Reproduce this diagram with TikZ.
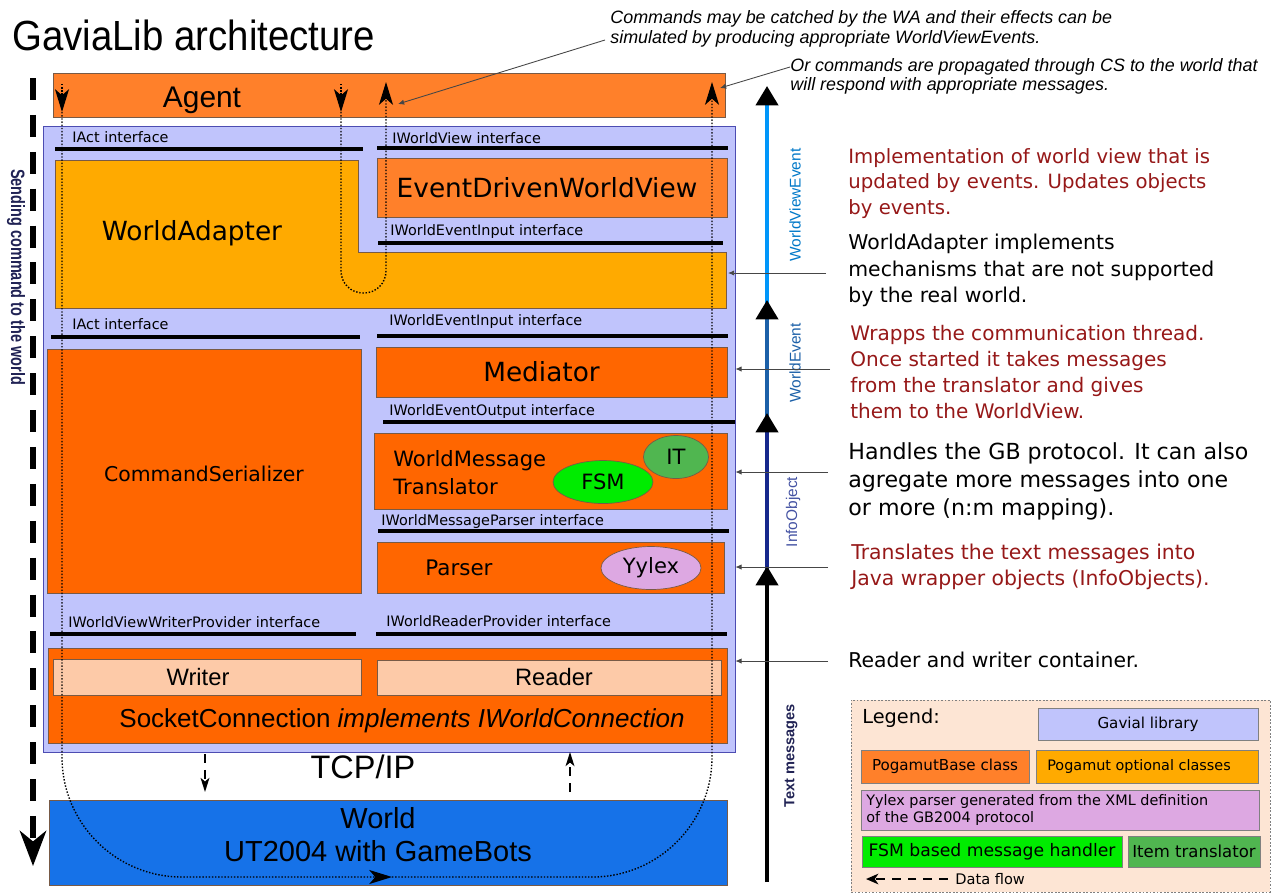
\documentclass[tikz,border=0pt]{standalone}
\usepackage{graphicx}
\usepackage{fontspec}
\setmainfont{DejaVu Sans}
\newfontfamily\libsans{Liberation Sans}
\usetikzlibrary{arrows.meta,positioning,calc,fit,shapes.geometric}

\definecolor{baseorange}{RGB}{255,128,42}
\definecolor{coreorange}{RGB}{255,102,0}
\definecolor{optyellow}{RGB}{255,170,0}
\definecolor{gavialblue}{RGB}{192,196,252}
\definecolor{peach}{RGB}{253,202,168}
\definecolor{worldblue}{RGB}{22,114,232}
\definecolor{fsmgreen}{RGB}{0,236,0}
\definecolor{itgreen}{RGB}{80,182,80}
\definecolor{yylexpink}{RGB}{221,168,226}
\definecolor{legendbg}{RGB}{253,229,212}
\definecolor{notered}{RGB}{150,24,24}
\definecolor{wveblue}{RGB}{0,150,250}
\definecolor{weblue}{RGB}{28,96,168}
\definecolor{ionavy}{RGB}{22,40,140}
\definecolor{labelnavy}{RGB}{32,34,84}
\definecolor{boxline}{RGB}{120,90,70}

\tikzset{
    panel/.style={draw=gray!60!blue,fill=gavialblue},
    basebox/.style={draw=boxline,fill=baseorange},
    corebox/.style={draw=boxline,fill=coreorange},
    iobox/.style={draw=boxline,fill=peach},
    iotext/.style={font=\libsans\fontsize{13.5}{16}\selectfont},
    bigtext/.style={font=\fontsize{15}{18}\selectfont},
    blob/.style={ellipse,draw=boxline,font=\fontsize{12}{14}\selectfont},
    ifbar/.style={line width=2.6pt},
    iflabel/.style={anchor=base west,font=\fontsize{8.2}{10}\selectfont},
    note/.style={anchor=north west,align=left,font=\fontsize{11.5}{14.8}\selectfont},
    pointer/.style={gray!55!black,line width=0.5pt,-{Latex[length=3.5pt,width=3pt]}},
    flow/.style={line width=0.8pt,dash pattern=on 0.8pt off 1pt,-{Stealth[length=13pt,width=8pt,inset=3.5pt]}},
    tcpflow/.style={line width=1pt,dash pattern=on 5pt off 4pt,-{Stealth[length=8pt,width=5pt,inset=2pt]}},
    stream/.style={line width=2.3pt,-{Triangle[length=11pt,width=12.5pt,color=black]}},
    streamlabel/.style={rotate=90,font=\libsans\fontsize{8.8}{10}\selectfont},
    legbox/.style={draw=gray},
    legtext/.style={font=\fontsize{8.6}{10}\selectfont}
}

\begin{document}
\begin{tikzpicture}[x=0.02cm,y=-0.02cm,every node/.style={inner sep=0pt}]
    \useasboundingbox (0,0) rectangle (1273,894);

    \node[anchor=base west,font=\libsans\fontsize{24}{28}\selectfont] (title) at (12,50) {\scalebox{0.91}[1]{GaviaLib architecture}};

    % library panel and agent
    \node[panel,fit={(43,126) (735,752)}] (gavial) {};
    \node[basebox,fit={(53,73) (725,117)}] (agent) {};
    \node[font=\libsans\fontsize{17}{20}\selectfont] (agentname) at (202,100) {Agent};

    % world adapter (L shaped)
    \draw[draw=boxline,fill=optyellow] (55,160) -- (358,160) -- (358,252) -- (726,252) -- (726,308) -- (55,308) -- cycle;
    \node[bigtext] (adapter) at (192,233) {WorldAdapter};
    \coordinate (adapteredge) at (728,273);

    \node[basebox,fit={(377,158) (727,217)}] (worldview) {};
    \node[bigtext] at ([xshift=-0.1cm]worldview) {EventDrivenWorldView};
    \node[corebox,fit={(376,347) (727,397)}] (mediator) {};
    \node[bigtext] at ([xshift=-0.2cm]mediator) {Mediator};
    \node[corebox,fit={(47,349) (361,593)}] (serializer) {};
    \node[font=\fontsize{11.6}{14}\selectfont] at ([yshift=-0.05cm]serializer) {CommandSerializer};

    \node[corebox,fit={(374,433) (727,509)}] (translator) {};
    \node[anchor=west,align=left,font=\fontsize{12}{15.9}\selectfont] (translatorname) at (393,473) {WorldMessage\\Translator};
    \node[blob,fill=itgreen,minimum width=1.3cm,minimum height=0.86cm] (it) at (676,457) {IT};
    \node[blob,fill=fsmgreen,minimum width=2cm,minimum height=0.86cm] (fsm) at (603,482) {FSM};

    \node[corebox,fit={(377,542) (724,593)}] (parser) {};
    \node[font=\fontsize{12.2}{14}\selectfont] (parsername) at (459,568) {Parser};
    \node[blob,fill=yylexpink,minimum width=2cm,minimum height=0.86cm] (yylex) at (651,568) {Yylex};

    \node[corebox,fit={(48,648) (727,743)}] (socket) {};
    \node[iobox,fit={(53,659) (361,695)}] (writer) {};
    \node[iotext] at ([xshift=-0.18cm]writer) {Writer};
    \node[iobox,fit={(377,660) (721,695)}] (reader) {};
    \node[iotext] at ([xshift=0.1cm]reader) {Reader};
    \node[font=\libsans\fontsize{14.8}{17}\selectfont] (socketname) at (402,721) {SocketConnection \textit{implements IWorldConnection}};

    % interfaces
    \draw[ifbar] (55,149) -- (363,149);
    \node[iflabel] at (72,142) {IAct interface};
    \draw[ifbar] (377,148) -- (728,148);
    \node[iflabel] at (392,143) {IWorldView interface};
    \draw[ifbar] (378,243) -- (723,243);
    \node[iflabel] at (390,235) {IWorldEventInput interface};
    \draw[ifbar] (51,337) -- (360,337);
    \node[iflabel] at (72,329) {IAct interface};
    \draw[ifbar] (377,336) -- (728,336);
    \node[iflabel] at (389,325) {IWorldEventInput interface};
    \draw[ifbar] (383,422) -- (735,422);
    \node[iflabel] at (389,415) {IWorldEventOutput interface};
    \draw[ifbar] (378,531) -- (729,531);
    \node[iflabel] at (381,525) {IWorldMessageParser interface};
    \draw[ifbar] (50,634) -- (356,634);
    \node[iflabel] at (68,627) {IWorldViewWriterProvider interface};
    \draw[ifbar] (376,634) -- (727,634);
    \node[iflabel] at (386,626) {IWorldReaderProvider interface};

    % the world
    \node[draw=boxline,fill=worldblue,fit={(49,800) (727,885)}] (world) {};
    \node[align=center,font=\libsans\fontsize{16.5}{18.7}\selectfont] (worldname) at (378,835) {World\\UT2004 with GameBots};
    \node[font=\libsans\fontsize{18.5}{21}\selectfont] (tcpip) at (363,767) {TCP/IP};
    \coordinate (sendtop) at (205,754);
    \coordinate (sendbot) at (205,792);
    \coordinate (recvbot) at (570,792);
    \coordinate (recvtop) at (570,752);
    \draw[tcpflow] (sendtop) -- (sendbot);
    \draw[tcpflow] (recvbot) -- (recvtop);

    % command direction on the left
    \coordinate (cmdtop) at (33,78);
    \coordinate (cmdbot) at (33,866);
    \draw[line width=3pt,dash pattern=on 12.5pt off 8.5pt,-{Stealth[length=20pt,width=15pt,inset=6pt]}] (cmdtop) -- (cmdbot);
    \node[rotate=-90,text=labelnavy,font=\libsans\bfseries\fontsize{11}{13}\selectfont] (cmdlabel) at (16,277) {\scalebox{0.75}[1]{Sending command to the world}};

    % message streams on the right
    \coordinate (s0) at (767,882);
    \coordinate (s1) at (767,566);
    \coordinate (s1b) at (767,585);
    \coordinate (s2) at (767,413);
    \coordinate (s2b) at (767,432);
    \coordinate (s3) at (767,300);
    \coordinate (s3b) at (767,318);
    \coordinate (s4) at (767,86);
    \draw[stream,wveblue] (s3b) -- (s4);
    \draw[stream,weblue] (s2b) -- (s3);
    \draw[stream,ionavy] (s1b) -- (s2);
    \draw[stream,black] (s0) -- (s1);
    \node[streamlabel,text=wveblue!80!black] at (795,205) {WorldViewEvent};
    \node[streamlabel,text=weblue] at (795,363) {WorldEvent};
    \node[streamlabel,text=ionavy!80] at (793,512) {InfoObject};
    \node[streamlabel,text=labelnavy,font=\libsans\bfseries\fontsize{8.3}{10}\selectfont] at (791,756) {Text messages};

    % notes
    \node[note,text=notered,font=\fontsize{11.2}{14.5}\selectfont] (n1) at (848,148) {Implementation of world view that is\\updated by events. Updates objects\\by events.};
    \node[note,font=\fontsize{11.6}{15}\selectfont] (n2) at (848,234) {WorldAdapter implements\\mechanisms that are not supported\\by the real world.};
    \node[note,text=notered,font=\fontsize{11.4}{14.7}\selectfont] (n3) at (850,325) {Wrapps the communication thread.\\Once started it takes messages\\from the translator and gives\\them to the WorldView.};
    \node[note,font=\fontsize{12.6}{15.9}\selectfont] (n4) at (848,442) {Handles the GB protocol. It can also\\agregate more messages into one\\or more (n:m mapping).};
    \node[note,text=notered,font=\fontsize{11.6}{14.7}\selectfont] (n5) at (851,544) {Translates the text messages into\\Java wrapper objects (InfoObjects).};
    \node[note,font=\fontsize{11.6}{14.7}\selectfont] (n6) at (848,652) {Reader and writer container.};

    \coordinate (p1) at (826,273);
    \coordinate (p2) at (830,369);
    \coordinate (p3) at (828,472);
    \coordinate (p4) at (828,567);
    \coordinate (p5) at (828,661);
    \draw[pointer] (p1) -- (adapteredge);
    \draw[pointer] (p2) -- (p2 -| gavial.east);
    \draw[pointer] (p3) -- (p3 -| gavial.east);
    \draw[pointer] (p4) -- (p4 -| gavial.east);
    \draw[pointer] (p5) -- (p5 -| gavial.east);

    \node[anchor=north west,align=left,font=\libsans\itshape\fontsize{10.2}{11.4}\selectfont] (catchnote) at (610,10) {Commands may be catched by the WA and their effects can be\\simulated by producing appropriate WorldViewEvents.};
    \node[anchor=north west,align=left,font=\libsans\itshape\fontsize{10.2}{11}\selectfont] (passnote) at (790,58) {Or commands are propagated through CS to the world that\\will respond with appropriate messages.};
    \coordinate (catchfrom) at (605,40);
    \coordinate (catchtip) at (398,104);
    \coordinate (passfrom) at (790,67);
    \coordinate (passtip) at (720,88);
    \draw[pointer] (catchfrom) -- (catchtip);
    \draw[pointer] (passfrom) -- (passtip);

    % dotted command paths
    \coordinate (cmdout) at (62,84);
    \coordinate (cmdin) at (62,112);
    \coordinate (worldmid) at (392,877);
    \coordinate (reply) at (712,82);
    \draw[flow] (cmdout) -- (cmdin);
    \draw[flow,rounded corners=2.4cm] (cmdin) |- (worldmid);
    \draw[flow,rounded corners=2.4cm] (worldmid) -| (reply);
    \coordinate (waout) at (341,84);
    \coordinate (wain) at (341,112);
    \coordinate (waback) at (386,82);
    \draw[flow] (waout) -- (wain);
    \draw[flow,rounded corners=0.44cm] (wain) -- (341,293) -- (386,293) -- (waback);

    % legend
    \node[draw=gray,dash pattern=on 1pt off 1pt,fill=legendbg,fit={(851,700) (1270,892)}] (legend) {};
    \node[anchor=west,font=\fontsize{11}{13}\selectfont] (legendtitle) at (862,718) {Legend:};
    \node[legbox,fill=gavialblue,fit={(1038,708) (1258,740)}] (leggavial) {};
    \node[legtext] at (leggavial) {Gavial library};
    \node[legbox,fill=baseorange,fit={(861,750) (1029,783)}] (legbase) {};
    \node[legtext] at (legbase) {PogamutBase class};
    \node[legbox,fill=optyellow,fit={(1036,750) (1258,783)}] (legopt) {};
    \node[legtext,font=\fontsize{8.2}{10}\selectfont] at ([xshift=-0.16cm]legopt) {Pogamut optional classes};
    \node[legbox,fill=yylexpink,fit={(861,790) (1259,830)}] (legyylex) {};
    \node[anchor=west,align=left,font=\fontsize{8.2}{9.6}\selectfont] (legyylexname) at (866,810) {Yylex parser generated from the XML definition\\of the GB2004 protocol};
    \node[legbox,fill=fsmgreen,fit={(862,836) (1122,867)}] (legfsm) {};
    \node[font=\fontsize{9.8}{11}\selectfont] at (legfsm) {FSM based message handler};
    \node[legbox,fill=itgreen,fit={(1128,836) (1260,867)}] (legit) {};
    \node[font=\fontsize{9.4}{11}\selectfont] at (legit) {Item translator};
    \node[anchor=west,font=\fontsize{8.3}{10}\selectfont] (legflow) at (955,879) {Data flow};
    \coordinate (legflowtip) at (866,879);
    \draw[line width=1.2pt,dash pattern=on 5pt off 4pt,-{Stealth[length=7pt,width=6pt,inset=2pt]}] ([xshift=-4pt]legflow.west) -- (legflowtip);
\end{tikzpicture}
\end{document}
